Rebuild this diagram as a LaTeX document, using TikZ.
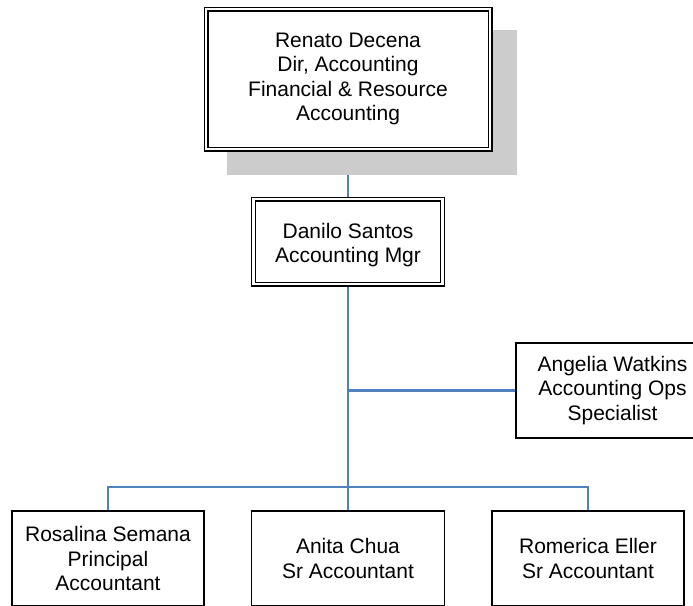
\documentclass[tikz,border=0pt]{standalone}
\usepackage{fontspec}
\setmainfont{Liberation Sans}
\pgfdeclarelayer{background}
\pgfsetlayers{background,main}
\definecolor{connblue}{RGB}{79,129,189}
\definecolor{shadowgray}{RGB}{204,204,204}
\begin{document}
\begin{tikzpicture}[x=1pt,y=-1pt,
  every node/.style={font=\fontsize{21}{24.2}\selectfont, align=center, inner sep=0pt},
  dblbox/.style={draw=black, fill=white, line width=1.3pt, double=white, double distance=2.4pt},
  sglbox/.style={draw=black, fill=white, line width=1.4pt},
  conn/.style={draw=connblue, line width=2.2pt}]
\useasboundingbox (0,0) rectangle (693,605);
\clip (0,0) rectangle (693,605);
% shadow of the top box
\fill[shadowgray] (227,30) rectangle (517,175);
% nodes
\node[dblbox, minimum width=284pt, minimum height=140pt] (renato) at (348,79)
  {Renato Decena\\Dir, Accounting\\Financial \& Resource\\Accounting};
\node[dblbox, minimum width=189pt, minimum height=85pt] (danilo) at (348,241.5)
  {\rule{0pt}{22pt}Danilo Santos\\Accounting Mgr};
\node[sglbox, minimum width=193pt, minimum height=95pt] (angelia) at (612.5,390.5)
  {Angelia Watkins\\Accounting Ops\\Specialist};
\node[sglbox, minimum width=192pt, minimum height=95pt] (rosalina) at (108,558.5)
  {Rosalina Semana\\Principal\\Accountant};
\node[sglbox, minimum width=193pt, minimum height=95pt] (anita) at (348,558.5)
  {Anita Chua\\Sr Accountant};
\node[sglbox, minimum width=192pt, minimum height=95pt] (romerica) at (588,558.5)
  {Romerica Eller\\Sr Accountant};
\coordinate (bar) at (348,487);
% connectors
\begin{pgfonlayer}{background}
\draw[conn] (renato.south) -- (danilo.north);
\draw[conn] (danilo.south) -- (anita.north);
\draw[conn] (angelia.west) -- (angelia.west -| danilo.south);
\draw[conn] (rosalina.north) |- (bar) -| (romerica.north);
\end{pgfonlayer}
\end{tikzpicture}
\end{document}
